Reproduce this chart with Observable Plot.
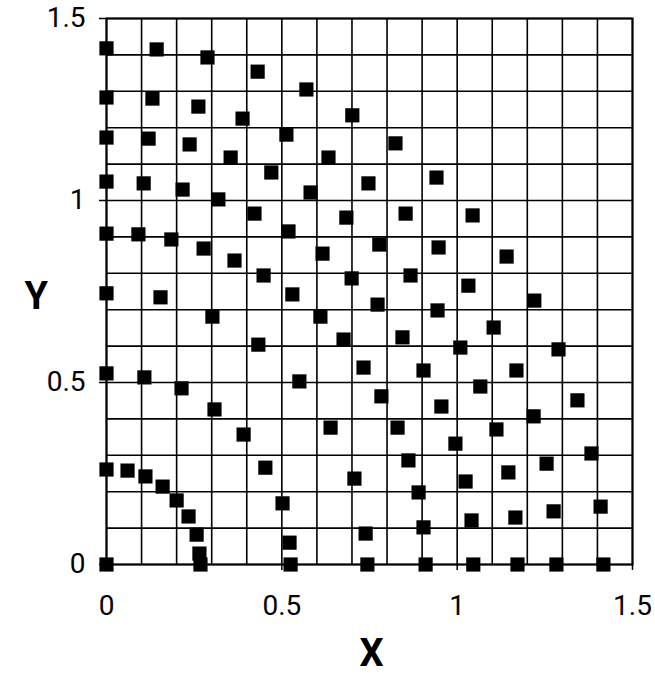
<!DOCTYPE html>
<html><head><meta charset="utf-8">
<script src="https://cdn.jsdelivr.net/npm/d3@7"></script>
<script src="https://cdn.jsdelivr.net/npm/@observablehq/plot@0.6"></script>
<style>body{margin:0;background:#fff}</style>
</head><body><div id="chart"></div><script>
// Points, grouped by ring (outermost first)
const ring1X = [0, 0.143, 0.288, 0.431, 0.570, 0.701, 0.824, 0.941, 1.044, 1.141, 1.220, 1.289, 1.343, 1.383, 1.409, 1.417];
const ring1Y = [1.418, 1.415, 1.393, 1.354, 1.305, 1.234, 1.157, 1.063, 0.959, 0.846, 0.725, 0.591, 0.451, 0.305, 0.159, 0];
const ring2X = [0, 0.131, 0.262, 0.388, 0.513, 0.633, 0.747, 0.853, 0.947, 1.032, 1.104, 1.169, 1.218, 1.255, 1.275, 1.283];
const ring2Y = [1.283, 1.280, 1.258, 1.225, 1.181, 1.118, 1.047, 0.964, 0.871, 0.766, 0.651, 0.533, 0.407, 0.277, 0.146, 0];
const ring3X = [0, 0.120, 0.237, 0.354, 0.470, 0.582, 0.684, 0.778, 0.867, 0.944, 1.009, 1.066, 1.112, 1.146, 1.166, 1.172];
const ring3Y = [1.173, 1.170, 1.154, 1.118, 1.077, 1.022, 0.953, 0.879, 0.794, 0.698, 0.596, 0.489, 0.371, 0.253, 0.129, 0];
const ring4X = [0, 0.106, 0.217, 0.319, 0.422, 0.519, 0.616, 0.699, 0.773, 0.844, 0.904, 0.955, 0.995, 1.024, 1.041, 1.046];
const ring4Y = [1.052, 1.047, 1.030, 1.003, 0.964, 0.915, 0.854, 0.786, 0.714, 0.624, 0.533, 0.434, 0.332, 0.228, 0.121, 0];
const ring5X = [0, 0.091, 0.185, 0.277, 0.365, 0.448, 0.530, 0.610, 0.676, 0.733, 0.784, 0.830, 0.861, 0.890, 0.904, 0.910];
const ring5Y = [0.909, 0.907, 0.893, 0.868, 0.835, 0.794, 0.742, 0.681, 0.618, 0.541, 0.462, 0.376, 0.286, 0.198, 0.102, 0];
const ring6X = [0, 0.154, 0.302, 0.433, 0.550, 0.639, 0.707, 0.739, 0.744];
const ring6Y = [0.745, 0.734, 0.681, 0.604, 0.503, 0.376, 0.236, 0.085, 0];
const ring7X = [0, 0.108, 0.214, 0.308, 0.391, 0.453, 0.502, 0.522, 0.525];
const ring7Y = [0.525, 0.514, 0.484, 0.426, 0.357, 0.266, 0.168, 0.060, 0];
const ring8X = [0, 0.060, 0.111, 0.160, 0.200, 0.234, 0.257, 0.265, 0.268];
const ring8Y = [0.261, 0.258, 0.242, 0.214, 0.176, 0.132, 0.082, 0.030, 0];
const originX = [0];
const originY = [0];

const gridValues = [0, 0.1, 0.2, 0.3, 0.4, 0.5, 0.6, 0.7, 0.8, 0.9, 1.0, 1.1, 1.2, 1.3, 1.4, 1.5];
const tickValues = [0, 0.5, 1, 1.5];
const tickLabels = ["0", "0.5", "1", "1.5"];
const xTitle = "X";
const yTitle = "Y";

const ringsX = [ring1X, ring2X, ring3X, ring4X, ring5X, ring6X, ring7X, ring8X, originX];
const ringsY = [ring1Y, ring2Y, ring3Y, ring4Y, ring5Y, ring6Y, ring7Y, ring8Y, originY];
const points = ringsX.flatMap((xs, r) => xs.map((x, i) => ({x, y: ringsY[r][i]})));
const fmt = d => tickLabels[tickValues.indexOf(d)];

const chart = Plot.plot({
  width: 655,
  height: 686,
  marginLeft: 106,
  marginRight: 23,
  marginTop: 18,
  marginBottom: 122,
  style: {fontFamily: "Roboto, 'DejaVu Sans', sans-serif", fontSize: "28px", color: "black", background: "white", overflow: "visible"},
  x: {domain: [0, 1.5]},
  y: {domain: [0, 1.5]},
  marks: [
    Plot.gridX(gridValues, {stroke: "black", strokeOpacity: 1, strokeWidth: 1.6}),
    Plot.gridY(gridValues, {stroke: "black", strokeOpacity: 1, strokeWidth: 1.6}),
    Plot.frame({stroke: "black", strokeWidth: 2}),
    Plot.axisX(tickValues, {tickSize: 6, tickPadding: 25, label: null, fontSize: 28, strokeWidth: 1.5, tickFormat: fmt}),
    Plot.axisY(tickValues, {tickSize: 7, tickPadding: 14, label: null, fontSize: 28, strokeWidth: 1.5, tickFormat: fmt}),
    Plot.dot(points, {x: "x", y: "y", symbol: "square", fill: "black", stroke: "none", r: 8}),
    Plot.text([yTitle], {text: d => d, frameAnchor: "left", dx: -82, dy: 5, fontSize: 38, fontWeight: "bold", fill: "black"}),
    Plot.text([xTitle], {text: d => d, frameAnchor: "bottom", dx: 2, dy: 101, fontSize: 38, fontWeight: "bold", fill: "black"})
  ]
});
document.getElementById("chart").appendChild(chart);
</script></body></html>
